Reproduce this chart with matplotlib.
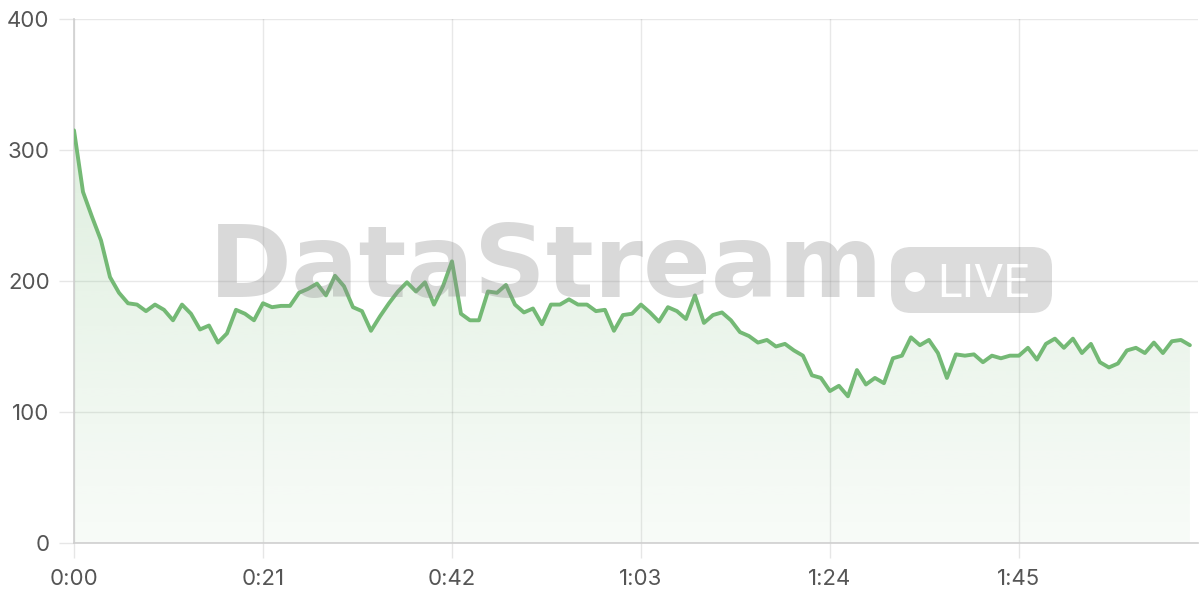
import numpy as np
import matplotlib
matplotlib.use("Agg")
import matplotlib.pyplot as plt
from matplotlib.patches import FancyBboxPatch, Circle, Polygon

# ---- data (one reading per second) ----
values = [315, 268, 249, 231, 203, 191, 183, 182, 177, 182,
          178, 170, 182, 175, 163, 166, 153, 160, 178, 175,
          170, 183, 180, 181, 181, 191, 194, 198, 189, 204,
          196, 180, 177, 162, 173, 183, 192, 199, 192, 199,
          182, 196, 215, 175, 170, 170, 192, 191, 197, 182,
          176, 179, 167, 182, 182, 186, 182, 182, 177, 178,
          162, 174, 175, 182, 176, 169, 180, 177, 171, 189,
          168, 174, 176, 170, 161, 158, 153, 155, 150, 152,
          147, 143, 128, 126, 116, 120, 112, 132, 121, 126,
          122, 141, 143, 157, 151, 155, 145, 126, 144, 143,
          144, 138, 143, 141, 143, 143, 149, 140, 152, 156,
          149, 156, 145, 152, 138, 134, 137, 147, 149, 145,
          153, 145, 154, 155, 151]
seconds = list(range(len(values)))

x_ticks = [0, 21, 42, 63, 84, 105]
x_labels = ["0:00", "0:21", "0:42", "1:03", "1:24", "1:45"]
y_ticks = [0, 100, 200, 300, 400]
y_labels = ["0", "100", "200", "300", "400"]
watermark = "DataStream"
badge_text = "LIVE"

line_color = "#74b975"
line_rgb = np.array([116, 185, 117]) / 255.0

fig = plt.figure(figsize=(12, 6), dpi=100)
ax = fig.add_axes([74 / 1200, 57 / 600, 1124 / 1200, 524 / 600])

# gradient area fill
grad = np.zeros((256, 1, 4))
grad[..., :3] = line_rgb
grad[:, 0, 3] = np.linspace(0.28, 0.05, 256)
im = ax.imshow(grad, extent=[0, seconds[-1], 0, 400], aspect="auto",
               origin="upper", zorder=1, interpolation="bilinear")
poly = Polygon(np.column_stack([[0] + seconds + [seconds[-1]],
                                [0] + values + [0]]),
               closed=True, facecolor="none", edgecolor="none")
ax.add_patch(poly)
im.set_clip_path(poly)

ax.plot(seconds, values, color=line_color, lw=2.8, zorder=3,
        solid_joinstyle="round", solid_capstyle="round")

ax.set_xlim(0, 124.9)
ax.set_ylim(0, 400)
ax.set_axisbelow(True)
ax.grid(True, color="black", alpha=0.09, lw=1.0)
for s in ["top", "right"]:
    ax.spines[s].set_visible(False)
for s in ["left", "bottom"]:
    ax.spines[s].set_color("#cfcfcf")
    ax.spines[s].set_linewidth(1.2)

ax.set_xticks(x_ticks, x_labels)
ax.set_yticks(y_ticks, y_labels)
ax.tick_params(length=11, width=1, color="#e6e6e6", labelcolor="#555555",
               labelsize=16)
ax.tick_params(axis="y", pad=6.5)
ax.tick_params(axis="x", pad=8)
for lab in ax.get_xticklabels() + ax.get_yticklabels():
    lab.set_fontfamily(["Inter", "DejaVu Sans"])

# LIVE badge (below the grid)
tr = fig.dpi_scale_trans
badge = FancyBboxPatch((8.91, 2.87), 1.61, 0.66,
                       boxstyle="round,pad=0,rounding_size=0.2",
                       transform=tr, facecolor="#8c8c8c", alpha=0.3,
                       edgecolor="none", zorder=0.2, clip_on=False)
ax.add_patch(badge)
dot = Circle((9.15, 3.18), 0.10, transform=tr, facecolor="white",
             edgecolor="none", zorder=0.3, clip_on=False)
ax.add_patch(dot)
ax.text(9.37, 3.03, badge_text, transform=tr, fontsize=33,
        family=["Roboto", "DejaVu Sans"], fontweight="normal", color="white",
        ha="left", va="baseline", zorder=0.3, clip_on=False)

# watermark text over everything
fig.text(209 / 1200, 1 - 297 / 600, watermark, fontsize=72,
         fontweight="bold", family=["DejaVu Sans"], color="#8c8c8c",
         alpha=0.33, ha="left", va="baseline", zorder=10)

fig.savefig("out.png", dpi=100)
